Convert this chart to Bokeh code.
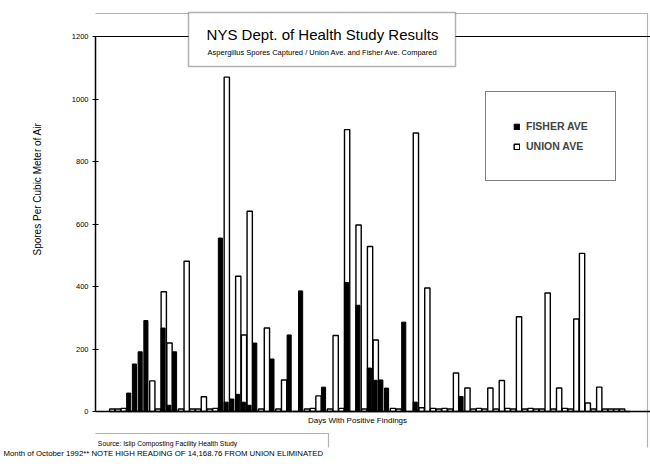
import math
from bokeh.plotting import figure
from bokeh.models import (ColumnDataSource, Range1d, Span, BoxAnnotation, Label,
                          Legend, LegendItem, FixedTicker, Title)
from bokeh.embed import file_html
from bokeh.resources import INLINE

# ---------------- data ----------------
slots = list(range(91))          # sampling slots (days with positive findings)
union_ave = [8, 8, 10, 0, 0, 0, 0, 98, 8, 383,
             219, 0, 8, 481, 8, 8, 47, 8, 10, 0,
             1070, 0, 433, 245, 641, 0, 8, 267, 0, 8,
             101, 0, 0, 0, 8, 10, 50, 0, 8, 243,
             10, 902, 0, 597, 8, 528, 229, 0, 0, 10,
             8, 0, 0, 891, 12, 395, 10, 8, 10, 8,
             123, 0, 75, 8, 10, 8, 75, 8, 99, 10,
             8, 303, 8, 10, 8, 8, 379, 8, 75, 10,
             8, 296, 506, 27, 8, 78, 8, 8, 8, 8,
             0]
fisher_ave = [0, 0, 0, 59, 152, 191, 291, 0, 0, 267,
              20, 191, 0, 0, 0, 0, 0, 0, 0, 555,
              30, 40, 55, 30, 20, 219, 0, 0, 168, 0,
              0, 245, 0, 386, 0, 0, 0, 78, 0, 0,
              0, 413, 0, 340, 0, 139, 100, 101, 75, 0,
              0, 286, 0, 30, 0, 0, 0, 0, 0, 0,
              0, 48, 0, 0, 0, 0, 0, 0, 0, 0,
              0, 0, 0, 0, 0, 0, 0, 0, 0, 0,
              0, 0, 0, 0, 0, 0, 0, 0, 0, 0,
              0]
y_ticks = [0, 200, 400, 600, 800, 1000, 1200]

title = "NYS Dept. of Health Study Results"
subtitle = "Aspergillus Spores Captured / Union Ave. and Fisher Ave. Compared"
x_title = "Days With Positive Findings"
y_title = "Spores Per Cubic Meter of Air"
source_1 = "Source:  Islip Composting Facility Health Study"
source_2 = "Month of October 1992** NOTE HIGH READING OF 14,168.76 FROM UNION  ELIMINATED"

# ---------------- layout constants ----------------
W, H = 650, 471
FRAME_LEFT = 95          # frame left edge inside the canvas
FRAME_BOTTOM = 447       # frame bottom edge inside the canvas
PX_SLOT = 5.73           # pixels per slot
FIRST_SLOT = 16.7        # first slot centre, px right of frame left
PX_UNIT = 0.3125         # pixels per spore unit
ZERO_Y = 411             # canvas y of value 0

x_start = -FIRST_SLOT / PX_SLOT
x_end = x_start + (W - FRAME_LEFT) / PX_SLOT
y_end = ZERO_Y / PX_UNIT
y_start = -(FRAME_BOTTOM - ZERO_Y) / PX_UNIT


def dx(px):
    return x_start + (px - FRAME_LEFT) / PX_SLOT


def dy(py):
    return (ZERO_Y - py) / PX_UNIT


FONT = "Liberation Sans"

src = ColumnDataSource(dict(slot=slots, union=union_ave, fisher=fisher_ave,
                            fslot=[s - 0.12 for s in slots]))

p = figure(width=W, height=H, output_backend="svg", toolbar_location=None,
           x_range=Range1d(x_start, x_end), y_range=Range1d(y_start, y_end),
           x_axis_location=None,
           min_border_left=FRAME_LEFT, min_border_right=0,
           min_border_top=0, min_border_bottom=H - FRAME_BOTTOM)
p.grid.visible = False
p.outline_line_color = None
p.background_fill_color = "white"
p.border_fill_color = "white"

ax = p.yaxis[0]
ax.ticker = FixedTicker(ticks=y_ticks)
ax.bounds = (0, 1200)
ax.axis_line_width = 1.5
ax.axis_line_color = "black"
ax.major_tick_in = 3
ax.major_tick_out = 3
ax.minor_tick_line_color = None
ax.major_label_standoff = 4
ax.major_label_text_font = FONT
ax.major_label_text_font_size = "7.5px"
ax.major_label_text_color = "black"

# y axis title (outside the frame, shifted upward like the original)
p.add_layout(Title(text=y_title, align="left", offset=FRAME_BOTTOM - 255,
                   standoff=52, text_font=FONT, text_font_size="10px",
                   text_font_style="normal", text_color="black"), "left")

# second footer line, which starts left of the frame
p.add_layout(Title(text=source_2, align="left", offset=3 - FRAME_LEFT,
                   vertical_align="top", standoff=3, text_font=FONT,
                   text_font_size="7.8px", text_font_style="normal",
                   text_color="black"), "below")

# outer frame of the page
p.add_layout(BoxAnnotation(left=dx(3), right=dx(647), top=dy(13), bottom=dy(490),
                           fill_alpha=0, line_color="black", line_width=1.2,
                           level="overlay"))

p.add_layout(Span(location=0, dimension="width", line_color="black", line_width=1.5))
p.add_layout(Span(location=1200, dimension="width", line_color="black", line_width=1.2))

r_union = p.vbar(x="slot", top="union", width=0.92, source=src,
                 fill_color="white", line_color="black", line_width=1.4)
r_fisher = p.vbar(x="fslot", top="fisher", width=0.72, source=src,
                  fill_color="black", line_color="black", line_width=1)

# title box
p.add_layout(BoxAnnotation(left=dx(188), right=dx(455), top=dy(12), bottom=dy(66),
                           fill_color="white", fill_alpha=1, line_color="black",
                           line_width=1.5, level="overlay"))
p.add_layout(Label(x=dx(322), y=dy(34), text=title, text_align="center",
                   text_baseline="middle", text_font=FONT, text_font_size="15px",
                   text_color="black", level="overlay"))
p.add_layout(Label(x=dx(322), y=dy(52), text=subtitle, text_align="center",
                   text_baseline="middle", text_font=FONT, text_font_size="7.5px",
                   text_color="black", level="overlay"))

# x axis title
p.add_layout(Label(x=dx(357), y=dy(420), text=x_title, text_align="center",
                   text_baseline="middle", text_font=FONT, text_font_size="8px",
                   text_color="black", level="overlay"))

# footer box
p.add_layout(BoxAnnotation(left=dx(3), right=dx(328), top=dy(433), bottom=dy(490),
                           fill_color="white", fill_alpha=1, line_color="black",
                           line_width=1.2, level="overlay"))
p.add_layout(Label(x=dx(168), y=dy(443), text=source_1, text_align="center",
                   text_baseline="middle", text_font=FONT, text_font_size="6.8px",
                   text_color="black", level="overlay"))

legend = Legend(items=[LegendItem(label="FISHER AVE", renderers=[r_fisher]),
                       LegendItem(label="UNION AVE", renderers=[r_union])],
                location=(485 - FRAME_LEFT, FRAME_BOTTOM - 181), padding=27, spacing=6,
                glyph_width=7, glyph_height=7, label_standoff=6,
                label_text_font=FONT, label_text_font_size="10.5px",
                label_text_font_style="bold", label_height=14,
                border_line_color="black", border_line_width=1.5,
                background_fill_color="white", background_fill_alpha=1)
p.add_layout(legend)

open("out.html", "w").write(file_html(p, INLINE))
